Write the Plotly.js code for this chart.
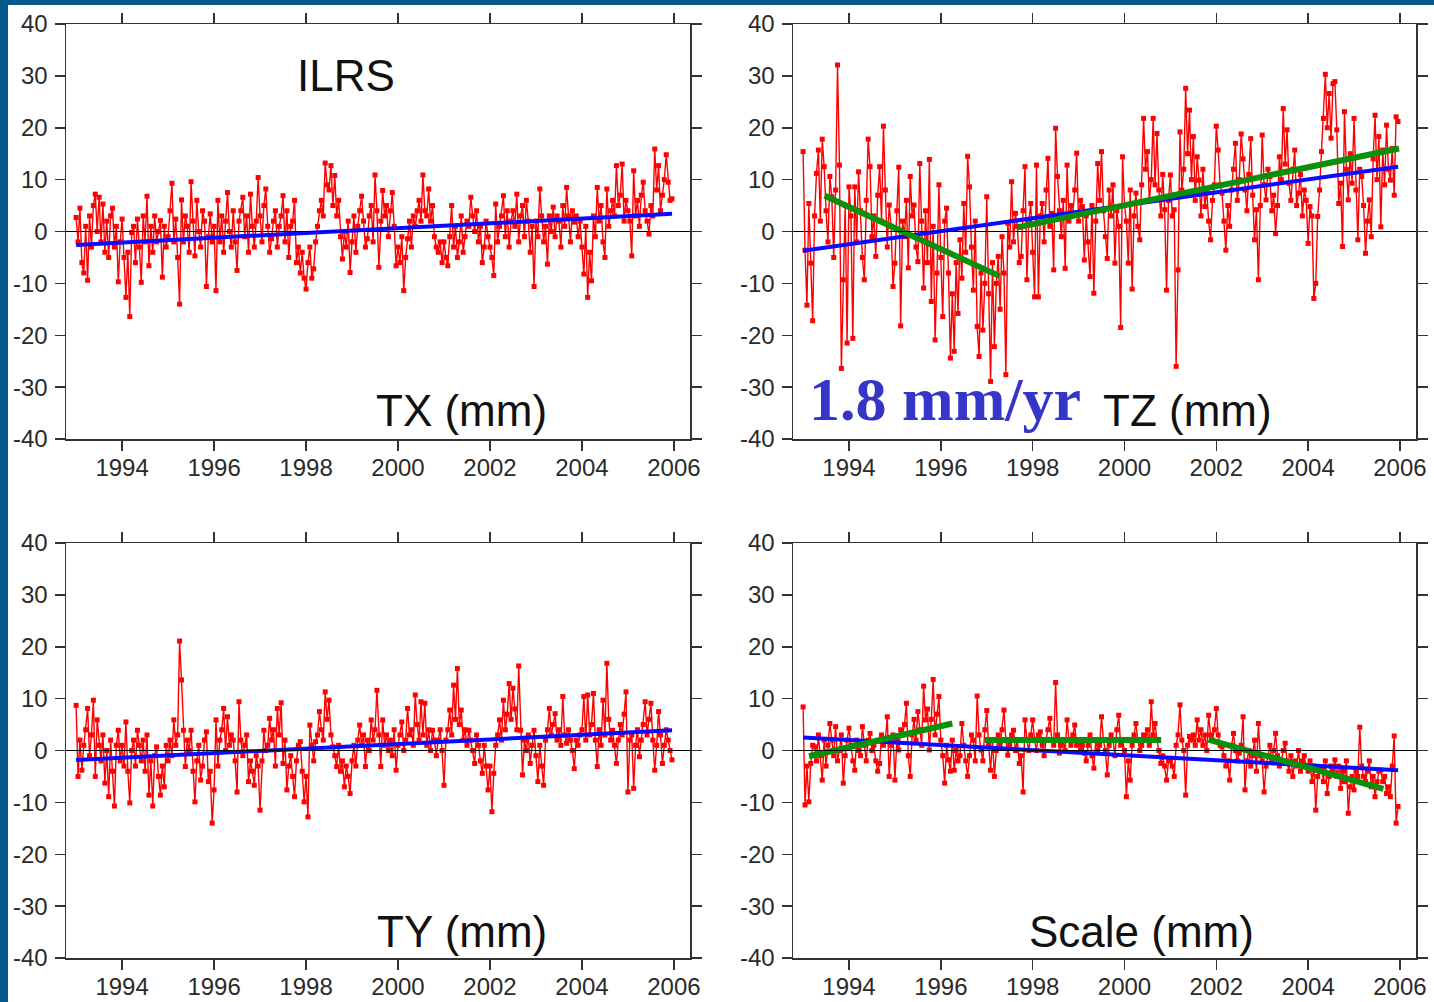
<!DOCTYPE html>
<html>
<head>
<meta charset="utf-8">
<script src="https://cdn.plot.ly/plotly-3.0.1.min.js"></script>
<style>
  html, body { margin: 0; padding: 0; background: #03598b; width: 1434px; height: 1002px; overflow: hidden; }
  #chart { position: absolute; left: 8px; top: 5px; width: 1426px; height: 997px; background: #ffffff; }
</style>
</head>
<body>
<div id="chart"></div>
<script>
// ---- sampling (semi-monthly solutions) ----
const sampleStart = 1993.0;
const samplesPerYear = 24;

// ---- TX (mm) ----
const txValues = [
  2.7, -2, 4.5, -6, -8, 1, -9.4, 3, -3, 5, 7.2, 0, 6.6, -2, 5.3, -4, 2, -5, 3, 4.5, -3, 1, -9.7, -2,
  2.4, -5, -12.7, -4, -16.4, -0.2, 1, -6, 2.4, -3, -9.8, 3, -2, 6.8, -6.6, 1, -4, 3, -2, 0, 2.1, -8.8, 1, -3,
  -1, 4, 9.3, -2, 2.4, -5, -14, 6.1, -2, 3, 1, -4, 9.6, 2, -4.7, 6, 0, -3, 4, 2, -10.6, -1, 3.4, -2,
  1, -11.4, 6, -2, 3, -4, 2, 7.5, 0, -3, 4, -2, -7.5, 2, 4, 6.6, -1, 3, -4, 7.2, 1, -3, 2, 10.4,
  3, -2, 5, 8.2, 1, -4, -1.4, 2, 4, -3, 1, 3, 6.9, -2, 4, -5, 1, 2, 6, -6, -3, -8, -4, -9,
  -11.1, -6, -3, -9, -7.2, -2, 1, 4, 6, 3, 13.2, 9, 8, 12.7, 5, 10.8, 3, 6, -1, -5.3, 0, -3, 2, -7.9,
  -2, 3, -4, 1, 4, 6.8, 2, -3, -1.4, 3, 5, -2, 10.9, 4, -6.9, 2, 7.9, 3, 5, -1, 4, 7.5, 1, -6.6,
  -3, -6, -1, -11.4, -5, -1.4, 2, -3, 3, 1, 4, 6, 2, 10.9, 4, 3, 8.2, 2, 5, -1, -3, -4, -2, -6,
  -2, -5, -6.6, -1, 5, -3, 1, -5, -2, 3, -4, -1, 2, 1, 6.6, 3, 0, 4, -2, 1, -6, -3, 2, -1,
  -3, -5, -8.5, 5.3, -2, 1, 3, 6.9, -1, 4, -3, 2, 4, 1, 7.2, -2, 3, 5, -1, 6, 2, -4, 1, -10.6,
  2, -1, 8.2, 3, -2, 1, -6.3, 3, 0, 4.7, -1, 3, 2, -3, 5, 1, 8.5, 3, -2, 4, 1.8, 3, -1, 2,
  -3, -8.2, 1, -12.7, -4, -9.5, 3, -1, 8.5, 2, 5, -2, -5, 8.2, 1, 4, 6, 3, 12.7, 5, 7, 13, 2, 6,
  4, 2, -4.7, 11.7, 3, 6, 1, 7, 9.5, 4, 2, -0.5, 5, 3, 15.9, 8, 12.7, 4, 7, 10, 14.8, 9.5, 6, 6.3
];

// ---- TZ (mm) ----
const tzValues = [
  15.4, -3.6, -14.2, 5.4, -6.1, -17.2, 3, 11.2, 15.7, 2, 17.8, 12.5, 4, -2, 10.6, 6.7, -5, 8, 32.1, 12.8, -26.4, -9.3, 5, -21.5,
  8.6, 3, -20.6, 8.6, -2, 11.5, 4, -5, -9.3, 6, 17.8, 12.5, -1, 3, -4.8, 7, 12.5, 2, 20.3, 8, -3, 5.1, 1, -10.6,
  -6.1, 4, 12.4, -18.2, 2, -1, 6, -7, 10.6, 3, 5.1, -3, -5.8, 13.1, 2, -10.9, 4, -6, 13.9, -13.5, 1, -20.9, -8, 9,
  -5, -16.4, 2, 4.5, -8, -24.4, -12, -23.1, -6, -15.8, -1.6, -9, 5.4, -4, 14.5, 8.6, -3, -11.3, 2, -18.3, -24.1, -8, -19, -10,
  6.7, -12, -28.9, -6, -22.2, -10, -4.8, -15, -1, -8, -27.6, 1.6, -3, 9.6, -2, 3.5, 1, -6, -4.8, 4, 12.5, -9.3, 2, 5.4,
  -4, -12.6, 12.8, -12.6, 3, 5.4, -2, 8, 14.1, 1, 3.5, -7.4, 19.9, 10.6, 4, -1, 6, -7.1, 12.8, 2, 5, 3.2, 8, 15.1,
  2, 6, 4.8, -5.5, 3, -2, -8.7, 5, -11.9, 2, 13.1, 6, 15.4, 4, -1, -5.2, 8, 3, 9, -6.1, 4, 1, -18.5, 14.4,
  5, 2, -6.1, 8, -11.1, 3, 7.4, 1, -1.6, 9, 21.8, 12, 15.4, 6, 10, 21.8, 9, 18.9, 8, 3, 11, 4.2, -11.3, 6,
  10.9, 3, 4.2, -26, -7.4, 19.2, 8, 12, 27.6, 15, 23.4, 10, 18.3, 6, 14.4, 9.9, 3, 12, 4.8, 8, 2, -1.6, 6, 9,
  20.3, 15.7, 9, 7.4, 2, -3.6, 5, 1, 8, 12, 17, 6, 10, 18.8, 14, 8, 4, 11, 17.9, 7, -1.6, 4.2, -9.3, 5,
  18.6, 9, 6.1, 12, 10.6, 4, 7, -0.4, 5, 14.4, 10, 23.7, 13, 19.6, 9.3, 6, 12, 15.7, 5, 7.4, 11, 3, 8, 6,
  -2.3, 4.8, 3, -12.9, -10, 2.9, 8, 15.4, 21.8, 30.3, 20, 26.6, 18, 28.5, 28.9, 19.6, 5.4, 9.3, -2.9, 23.1, 12, 6.1, 15, 9.3,
  21.8, 8, -1.6, 12, 10.6, 5, -4.2, 2, 6.1, -1, 14, 22.4, 10, 18.3, 0.9, 15.7, 9, 20.5, 12, 9.9, 16, 7, 22.1, 21.2
];

// ---- TY (mm) ----
const tyValues = [
  8.7, -5, 2, -3.8, 1, 4, 8.1, -1, 3, 9.7, -5, 5.9, 1, -2, 3, -6.3, 0, -8.9, 2, -4, -10.7, 1, 3.9, -2,
  1, -3, 5.5, -4, -10.1, 0, 2, -3, 3.9, 1, -2, 2, -4, 3, -8.6, -2, -10.7, -1, 0.7, -5, -8.6, -3, -7, 1,
  -2, 2, -1, 5.9, 1, 3, 21.1, 13.6, 3.9, -3.1, 2, 0, 3.9, -4, -9.9, -2, 1, -5.7, -3, 2, 3.6, -6, -4, -14,
  -7.6, 5.9, -3, 2, 4, 8.1, 0, 6.5, 1, 3, 2, -2, -8, 9.4, 2, -1, 1, 3, -6, -2, -4, -6.7, -1, -3,
  -11.5, -2, 3.9, 0, 1, 6.2, 2, 4, -3, 8.1, 3, 9.2, -2.5, 2, -7.6, -3, -1, -5, -8.9, -2, 1, 1.7, -4, -9.9,
  -5, -12.8, 4.9, 1, -2, 1.7, 3, 7.5, 4, 2, 11.3, 6, 9.7, 3, 0.7, -1, -3.1, 1, -4, -2, -7, -3, -5, -8.3,
  -2, 1, -3, 2, 4.9, 1, 3, -3.1, 2, 0, 5.9, 2, 4, 11.6, 3, -3.1, 5.9, 1, 3, 0, 2, -1, 4, -3.8,
  1, 3, 5.5, 0, 2, 8.1, 3, 4, 1, 10.7, 5, 2, 9.4, 3, 9.1, 1, 4, 0, 3.9, 2, -1, 2, 4, 0,
  -6.7, 2, 4, 7.8, 3, 12.6, 6, 15.8, 5, 7.8, 2, 4, 1, 3.9, 2, 0, -2.5, 3, 1, -2, -4.4, 1, -3, -7.6,
  -3, -11.8, -4.4, 1, 3, 5.9, 2, 9.7, 4, 7, 12.9, 6, 12, 8, 4, 16.3, 3.9, -4.7, 2, 0, 3, -2.5, 1, 3.9,
  -1, -6, 1, -3, -6.7, 2, 4, 8.1, 3, 5, 7.1, 2, 4, 1, 10.4, 3, 1.4, 4, 2, 0, -3.5, 2, 1, 3,
  4, 10.4, 2, 10.7, 3, 5, 11, 2, -3.1, 4, 1, 9.7, 3, 16.8, 6, 2, 3.9, 1, -2.5, 2, 5, 3, 7, 11.3,
  -8, 2, 3, -7.3, 1, 4, -1.2, 2, 5, 9.4, 3, 6, 9.1, 2, -3.8, 1, 7.5, 3, -2.5, 1, 4, 2, 0, -1.8
];

// ---- Scale (mm) ----
const scaleValues = [
  8.4, -10.5, -3, -9.9, -2.5, 1, 0.7, -2, 3, -1, -5.7, 2, -3, 1, 5.2, 2, -1, 4.6, -2, 0, 3, -6.3, -1, 2,
  4.3, 1, -2, -3.8, 2, 0, -1, 4.6, 1, -2, 2, 3.3, 0, 1, -2, -4, -2.5, 3, 1, 2, 6.5, -5, 1, 3,
  -5.7, 2, 0.1, 4, 3, 5, 9.1, -1, -5, 3, 6, 2, 7.5, 4, 1, 12.4, 5.9, 8, 0.1, 6, 13.7, 3, 7, 10.4,
  2, -1, -6.3, 1, -1.8, -4, 2, -3.8, 0, -2, -1, 5.2, 1, -2, -5, -1, 3, 2, -2, 10.5, 3, 0.1, -2, 4,
  7.7, 1, -3.8, 2, -5, 0, 3, 1, 4, 7.8, 2, -0.9, 1, 3, 3.9, 0, 2, -2.5, -1, -8, 5.9, 2, 0, 3,
  5.9, 2, 0, 3, 3.6, 1, -1, 2, 4, 6.2, 2, 1, 13.1, 3, -0.5, 1, 2, 0, 5.9, 2, 1, 3, 4.9, 1,
  2, 0, 1, -0.5, -2, 1, 3, -1, -3.4, 2, 0, 1, 6.5, 2, 0, -4.7, 1, 3, 2, -1, 4, 6.8, 1, 2,
  0, -8.9, -2, -5.7, 1, 3, 5.2, 2, 0, 1, 3, 2, 4, 1, 9.4, 3, 5.2, 2, 0, -2.5, -1, -3, -5.7, -2,
  -2, -3, -5, 1, 3, 8.8, 2, 0, -8.6, 1, 2.7, 2, 3, 1, 5.9, 2, 4, 1, 3, 0, 6.8, 3, 2, 4,
  8.1, 3, 1, 0.7, -1, -3, -2, -5.7, 1, 3.3, 0, -2, -0.5, 1, 6.5, -7.6, -2, 0, -3, -1, 2, -4, 5.2, -1,
  -2, -8, -3, -1, 1, -2, 0, 3.3, -1, -3, -2, 0, 1.4, -2, -4, -1, -5, -2, -3, 0, -4, -2, -1, -3.1,
  -4, -2, -6, -3, -11.5, -5, -4, -3.1, -6, -2, -8.3, -5, -3, -4, -1.8, -5, -3, -7.3, -4, -6, -2, -12.1, -7, -5,
  -7.6, -4, -5, 4.5, -3, -5, -6, -4, -2, -7, -5, -8.9, -6, -4, -3.8, -6, -5, -8.3, -7, -8.9, -3, 2.8, -14, -10.8
];

// ---- linear trends (blue) ----
const trendYears = [1993.0, 2005.96];
const txTrend = [-2.6, 3.4];
const tzTrend = [-3.7, 12.5];
const tyTrend = [-1.85, 3.9];
const scaleTrend = [2.5, -3.8];

// ---- piecewise trends (green) ----
const tzSegYears = [[1993.47, 1997.28], [1997.67, 2005.98]];
const tzSegValues = [[6.9, -8.6], [0.8, 16.0]];
const scaleSegYears = [[1993.13, 1996.25], [1996.96, 2000.8], [2001.83, 2005.64]];
const scaleSegValues = [[-1.1, 5.2], [2.0, 2.0], [2.1, -7.4]];

// ---- ticks / labels ----
const xTickVals = [1994, 1996, 1998, 2000, 2002, 2004, 2006];
const xTickText = ['1994', '1996', '1998', '2000', '2002', '2004', '2006'];
const yTickVals = [-40, -30, -20, -10, 0, 10, 20, 30, 40];
const yTickText = ['-40', '-30', '-20', '-10', '0', '10', '20', '30', '40'];
const panelTitles = ['TX (mm)', 'TZ (mm)', 'TY (mm)', 'Scale (mm)'];
const networkLabel = 'ILRS';
const rateLabel = '1.8 mm/yr';

// ------------------------------------------------------------
const timeOf = (vals) => vals.map((_, i) => sampleStart + i / samplesPerYear);

const RED = '#ff0000', BLUE = '#0a0aff', GREEN = '#0a8f0a';

function redTrace(vals, ax) {
  return {
    x: timeOf(vals), y: vals, xaxis: 'x' + ax, yaxis: 'y' + ax,
    type: 'scatter', mode: 'lines+markers',
    line: { color: RED, width: 1.4 },
    marker: { color: RED, size: 5, symbol: 'square' },
    hoverinfo: 'skip'
  };
}
function lineTrace(xs, ys, ax, color, width) {
  return {
    x: xs, y: ys, xaxis: 'x' + ax, yaxis: 'y' + ax,
    type: 'scatter', mode: 'lines',
    line: { color: color, width: width }, hoverinfo: 'skip'
  };
}

const data = [
  redTrace(txValues, ''), redTrace(tzValues, '2'), redTrace(tyValues, '3'), redTrace(scaleValues, '4'),
  lineTrace(trendYears, txTrend, '', BLUE, 4),
  lineTrace(trendYears, tzTrend, '2', BLUE, 4),
  lineTrace(trendYears, tyTrend, '3', BLUE, 4),
  lineTrace(trendYears, scaleTrend, '4', BLUE, 4)
];
tzSegYears.forEach((xs, k) => data.push(lineTrace(xs, tzSegValues[k], '2', GREEN, 6)));
scaleSegYears.forEach((xs, k) => data.push(lineTrace(xs, scaleSegValues[k], '4', GREEN, 6)));

const W = 1426, H = 997;
const domX = (a, b) => [a / W, b / W];
const domY = (top, bottom) => [(H - bottom) / H, (H - top) / H];

const tickFont = { family: 'Liberation Sans, Arial, sans-serif', size: 24, color: '#2a2a2a' };
function xAxis(dom, anchor) {
  return {
    domain: dom, anchor: anchor, range: [1992.78, 2006.35],
    tickvals: xTickVals, ticktext: xTickText, tickfont: tickFont,
    ticks: 'outside', ticklen: 10, tickwidth: 1.5, tickcolor: '#333333',
    showline: true, linecolor: '#333333', linewidth: 1.5, mirror: 'ticks',
    showgrid: false, zeroline: false, fixedrange: true, ticklabelstandoff: -3
  };
}
function yAxis(dom, anchor) {
  return {
    domain: dom, anchor: anchor, range: [-40, 40],
    tickvals: yTickVals, ticktext: yTickText, tickfont: tickFont,
    ticks: 'outside', ticklen: 10, tickwidth: 1.5, tickcolor: '#333333',
    showline: true, linecolor: '#333333', linewidth: 1.5, mirror: 'ticks',
    showgrid: false, zeroline: false, fixedrange: true, ticklabelstandoff: 2
  };
}

const leftX = domX(58, 682), rightX = domX(785, 1408);
const topY = domY(19, 434), botY = domY(538, 953);

const titleFont = { family: 'Liberation Sans, Arial, sans-serif', size: 44, color: '#111111' };
function ann(text, xref, yref, x, y, font) {
  return { text: text, xref: xref, yref: yref, x: x, y: y, showarrow: false,
           xanchor: 'center', yanchor: 'middle', font: font };
}

const zeroShape = (ax) => ({
  type: 'line', xref: 'x' + ax + ' domain', yref: 'y' + ax, x0: 0, x1: 1, y0: 0, y1: 0,
  line: { color: '#000000', width: 1.2 }, layer: 'above'
});

const layout = {
  width: W, height: H,
  margin: { l: 0, r: 0, t: 0, b: 0 },
  paper_bgcolor: '#ffffff', plot_bgcolor: '#ffffff',
  showlegend: false,
  xaxis: xAxis(leftX, 'y'), yaxis: yAxis(topY, 'x'),
  xaxis2: xAxis(rightX, 'y2'), yaxis2: yAxis(topY, 'x2'),
  xaxis3: xAxis(leftX, 'y3'), yaxis3: yAxis(botY, 'x3'),
  xaxis4: xAxis(rightX, 'y4'), yaxis4: yAxis(botY, 'x4'),
  shapes: [zeroShape(''), zeroShape('2'), zeroShape('3'), zeroShape('4')],
  annotations: [
    ann(networkLabel, 'x', 'y', 1998.87, 30, titleFont),
    ann(panelTitles[0], 'x', 'y', 2001.39, -34.5, titleFont),
    ann(panelTitles[1], 'x2', 'y2', 2001.37, -34.5, titleFont),
    ann(panelTitles[2], 'x3', 'y3', 2001.39, -34.8, titleFont),
    ann(panelTitles[3], 'x4', 'y4', 2000.37, -34.8, titleFont),
    ann(rateLabel, 'x2', 'y2', 1996.1, -32.2,
        { family: 'Liberation Serif, Times New Roman, serif', size: 62, color: '#3535c8', weight: 'bold' })
  ]
};

Plotly.newPlot('chart', data, layout, { staticPlot: true, displayModeBar: false });
</script>
</body>
</html>
